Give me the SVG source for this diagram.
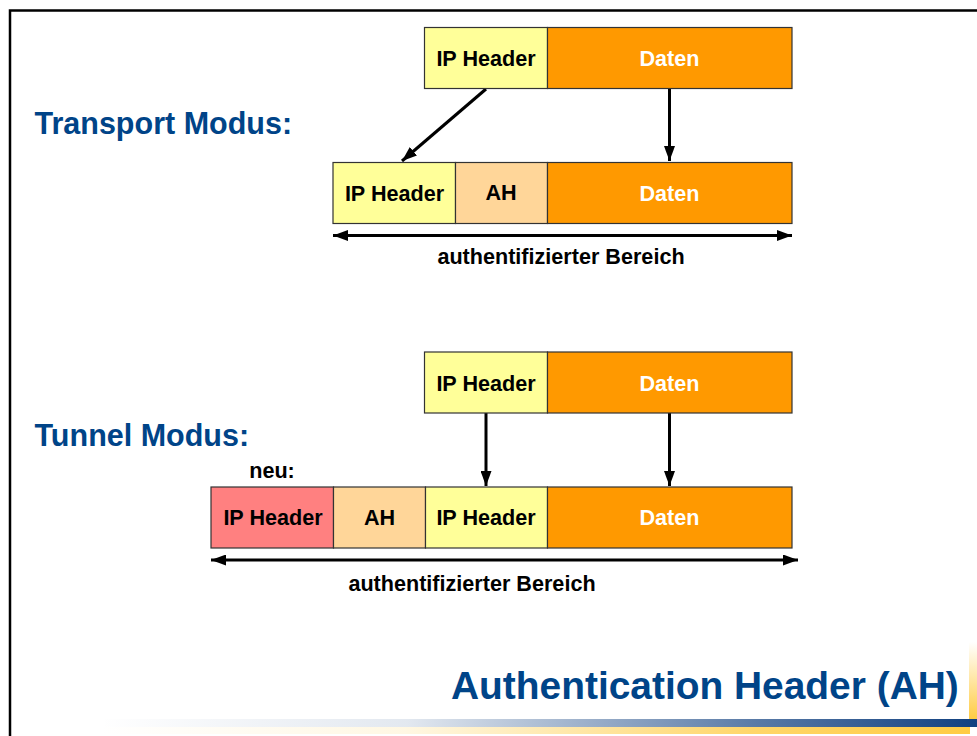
<svg xmlns="http://www.w3.org/2000/svg" width="977" height="736" viewBox="0 0 977 736">
<style>
text{font-family:"Liberation Sans",Arial,sans-serif;font-weight:bold}
.b{stroke:#333;stroke-width:1.2}
.y{fill:#ffff99}.o{fill:#ff9900}.a{fill:#ffd699}.r{fill:#ff8080}
.l{font-size:21.600px;text-anchor:middle;fill:#000}
.w{font-size:21.600px;text-anchor:middle;fill:#fff}
.h{font-size:30.500px;fill:#004488}
.c{stroke:#000;stroke-width:3;fill:none}
</style>
<defs>
<marker id="m" markerUnits="userSpaceOnUse" markerWidth="16" markerHeight="11" refX="15" refY="5.500" orient="auto-start-reverse" viewBox="0 0 16 11"><path d="M0 0L15 5.500L0 11z" fill="#000"/></marker>
<linearGradient id="g1" x1="0" x2="1" y1="0" y2="0"><stop offset="0" stop-color="#104080" stop-opacity="0"/><stop offset="0.35" stop-color="#104080" stop-opacity="0.12"/><stop offset="0.75" stop-color="#104080" stop-opacity="0.7"/><stop offset="1" stop-color="#104080"/></linearGradient>
<linearGradient id="g2" x1="0" x2="1" y1="0" y2="0"><stop offset="0" stop-color="#ffcc44" stop-opacity="0"/><stop offset="0.35" stop-color="#ffcc44" stop-opacity="0.15"/><stop offset="0.75" stop-color="#ffcc44" stop-opacity="0.8"/><stop offset="1" stop-color="#ffcc44"/></linearGradient>
<linearGradient id="g3" x1="0" x2="0" y1="0" y2="1"><stop offset="0" stop-color="#ffcc44" stop-opacity="0"/><stop offset="1" stop-color="#ffcc44"/></linearGradient>
</defs>
<rect width="977" height="736" fill="#fff"/>
<g id="frame"><path d="M10 736V10.500H977" fill="none" stroke="#000" stroke-width="2.500"/></g>
<g id="decor">
<rect x="969" y="642" width="8" height="77" fill="url(#g3)"/>
<rect x="100" y="719" width="877" height="8" fill="url(#g1)"/>
<rect x="100" y="727" width="870" height="7" fill="url(#g2)"/>
</g>
<g id="connectors">
<path class="c" d="M486 89L402 161" marker-end="url(#m)"/>
<path class="c" d="M669.500 89V161" marker-end="url(#m)"/>
<path class="c" d="M333 235.500H792" marker-start="url(#m)" marker-end="url(#m)"/>
<path class="c" d="M486 413V486" marker-end="url(#m)"/>
<path class="c" d="M669.500 413V486" marker-end="url(#m)"/>
<path class="c" d="M211 560H798" marker-start="url(#m)" marker-end="url(#m)"/>
</g>
<g id="t1-ip"><rect class="b y" x="424.500" y="27.500" width="123" height="61"/><text class="l" x="486" y="66">IP Header</text></g>
<g id="t1-daten"><rect class="b o" x="547.500" y="27.500" width="244.500" height="61"/><text class="w" x="669.500" y="66">Daten</text></g>
<g id="t2-ip"><rect class="b y" x="333" y="162.500" width="122.500" height="61"/><text class="l" x="394.500" y="201">IP Header</text></g>
<g id="t2-ah"><rect class="b a" x="455.500" y="162.500" width="92" height="61"/><text class="l" x="501" y="200">AH</text></g>
<g id="t2-daten"><rect class="b o" x="547.500" y="162.500" width="244.500" height="61"/><text class="w" x="669.500" y="201">Daten</text></g>
<g id="u1-ip"><rect class="b y" x="424.500" y="352" width="123" height="61"/><text class="l" x="486" y="391">IP Header</text></g>
<g id="u1-daten"><rect class="b o" x="547.500" y="352" width="244.500" height="61"/><text class="w" x="669.500" y="391">Daten</text></g>
<g id="u2-new"><rect class="b r" x="211" y="487" width="122.500" height="61"/><text class="l" x="273" y="525">IP Header</text></g>
<g id="u2-ah"><rect class="b a" x="333.500" y="487" width="92" height="61"/><text class="l" x="379.500" y="525">AH</text></g>
<g id="u2-ip"><rect class="b y" x="425.500" y="487" width="122" height="61"/><text class="l" x="486" y="525">IP Header</text></g>
<g id="u2-daten"><rect class="b o" x="547.500" y="487" width="244.500" height="61"/><text class="w" x="669.500" y="525">Daten</text></g>
<g id="labels">
<text class="h" x="34.500" y="134">Transport Modus:</text>
<text class="h" x="34.500" y="446">Tunnel Modus:</text>
<text class="l" x="561" y="264">authentifizierter Bereich</text>
<text class="l" x="472" y="591">authentifizierter Bereich</text>
<text class="l" x="272" y="478">neu:</text>
<text x="451" y="699" font-size="38.900" fill="#004488">Authentication Header (AH)</text>
</g>
</svg>
